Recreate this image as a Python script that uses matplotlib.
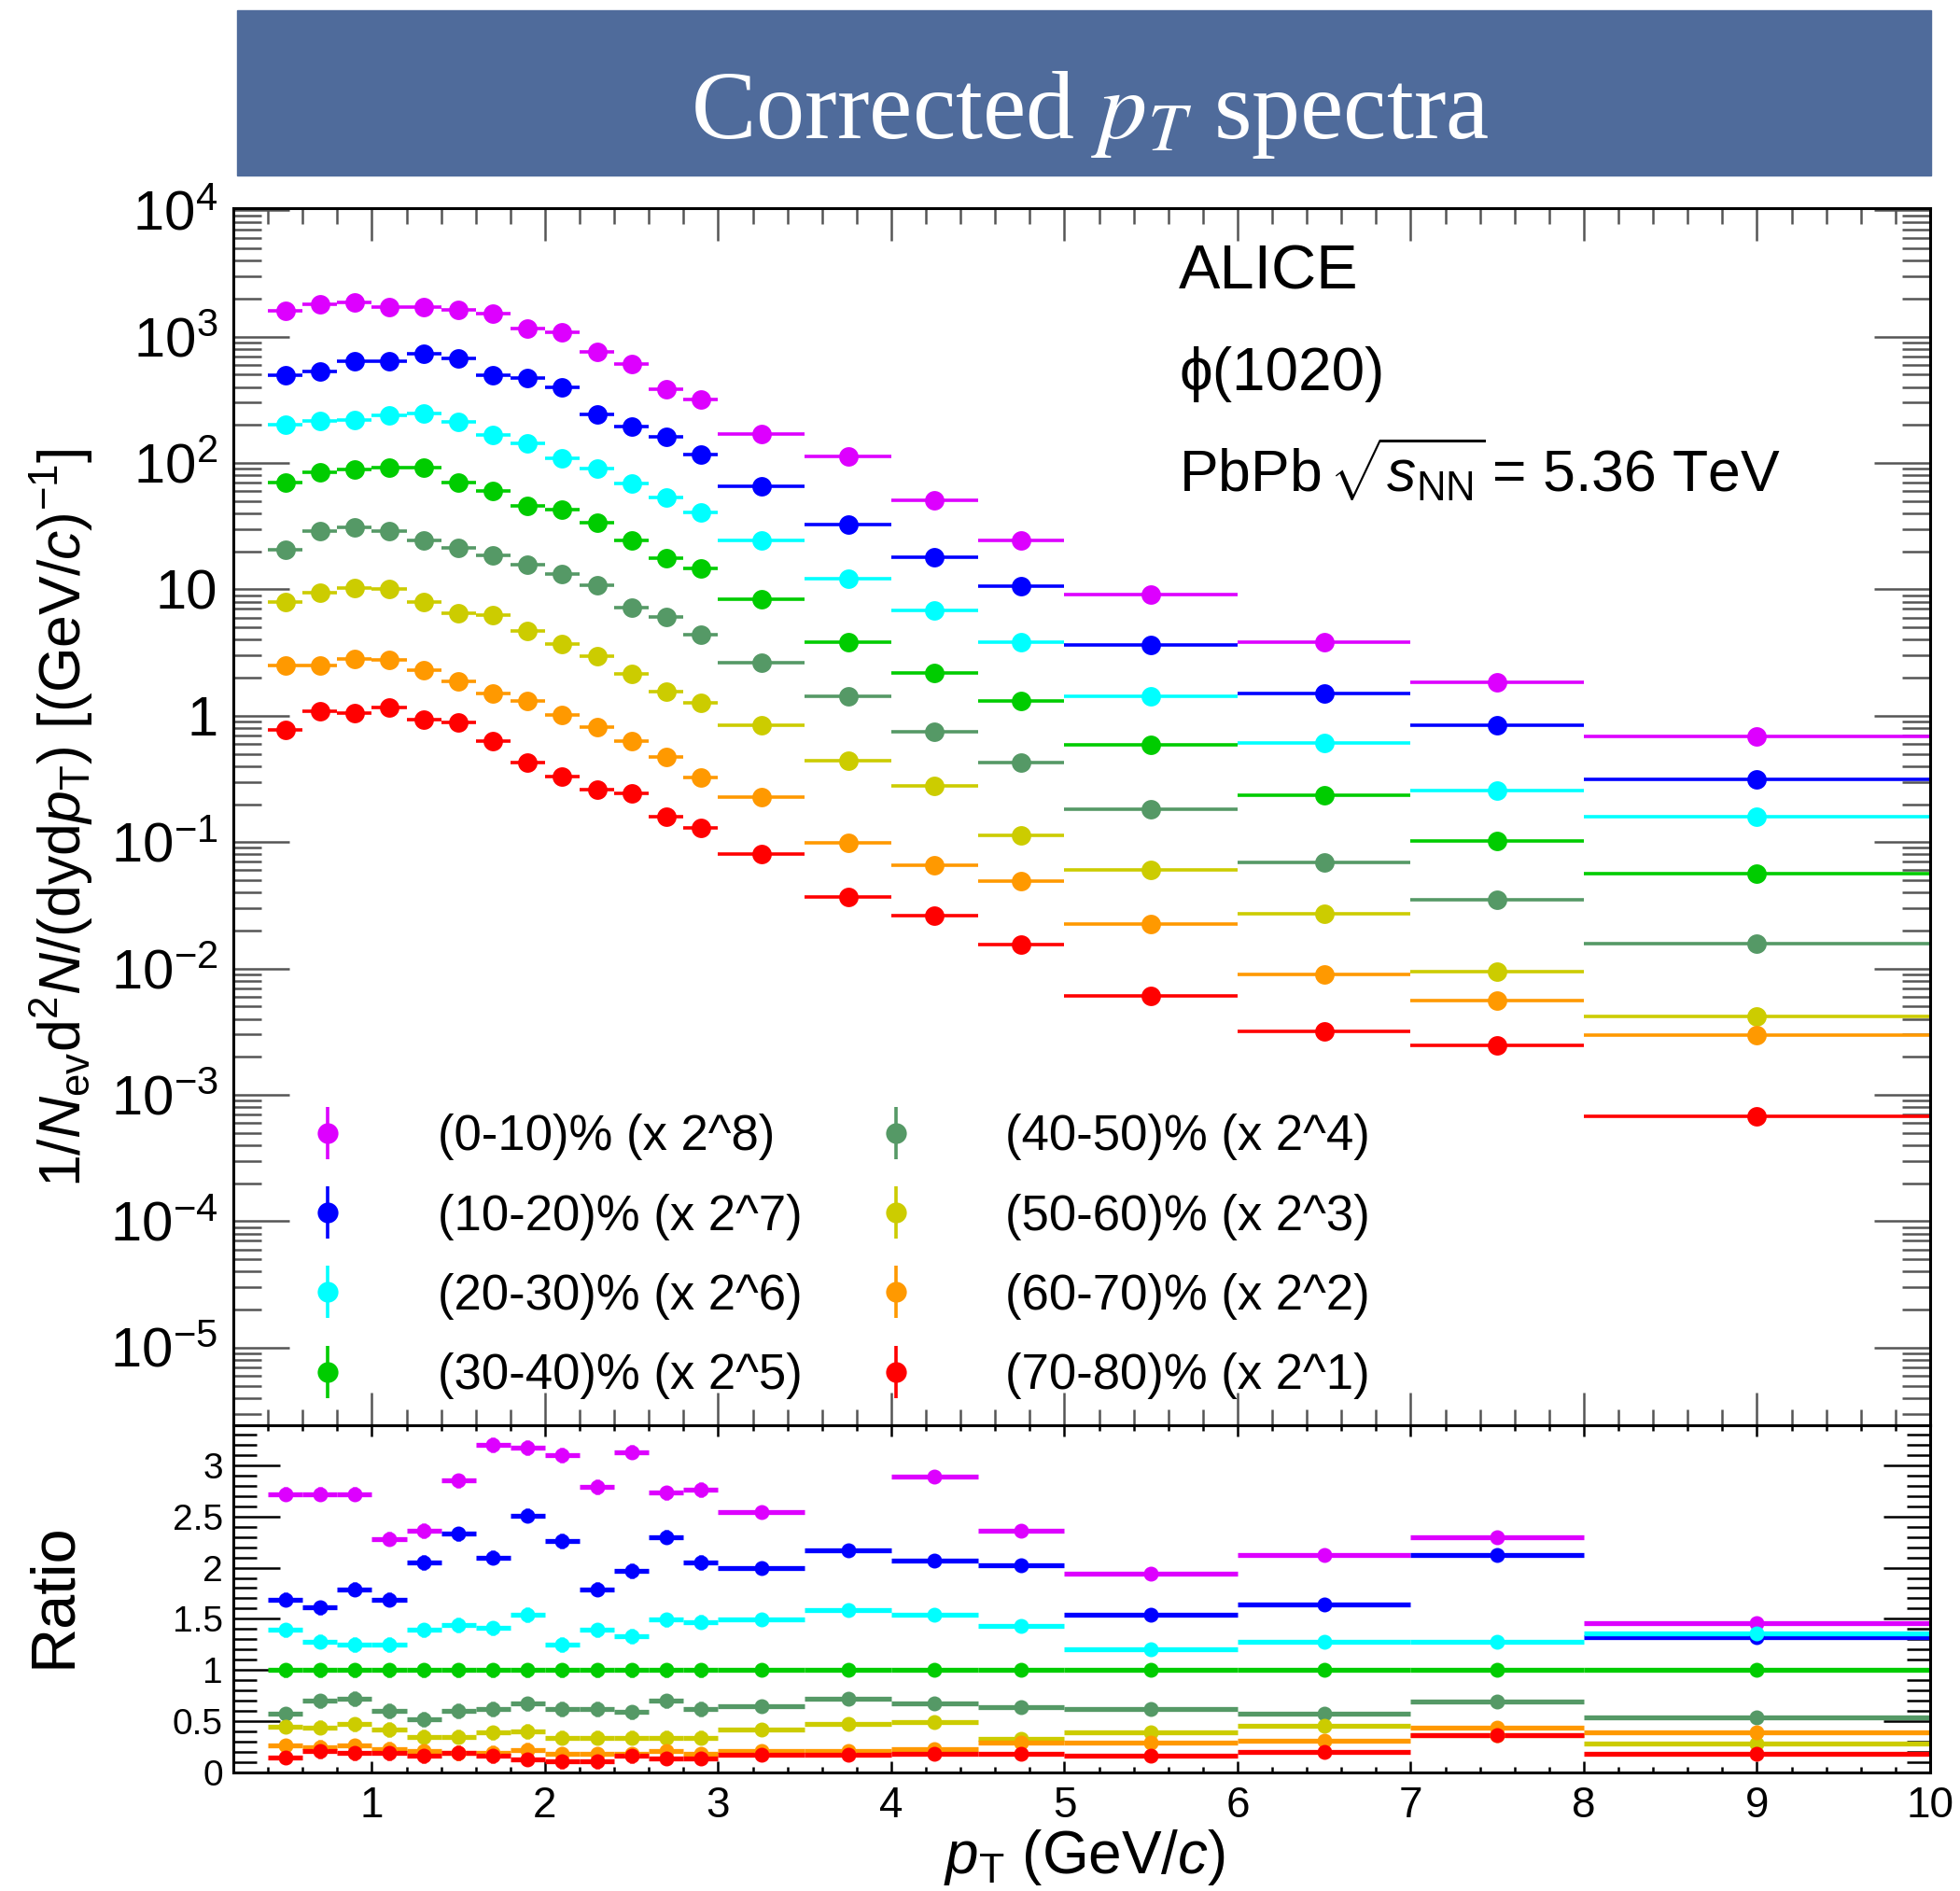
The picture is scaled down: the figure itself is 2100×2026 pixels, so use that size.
import numpy as np
import matplotlib
matplotlib.use("Agg")
import matplotlib.pyplot as plt
from matplotlib.ticker import LogLocator, MultipleLocator, FixedLocator, FixedFormatter, NullFormatter
from matplotlib.patches import Rectangle
from matplotlib.container import ErrorbarContainer
from matplotlib.legend_handler import HandlerErrorbar

plt.rcParams['font.family'] = ['Liberation Sans', 'DejaVu Sans']
plt.rcParams['mathtext.fontset'] = 'custom'
plt.rcParams['mathtext.rm'] = 'Liberation Sans'
plt.rcParams['mathtext.it'] = 'Liberation Sans:italic'
plt.rcParams['mathtext.bf'] = 'Liberation Sans:bold'

# pT bins (GeV/c)
pt_edges = [0.4, 0.6, 0.8, 1.0, 1.2, 1.4, 1.6, 1.8, 2.0, 2.2, 2.4, 2.6, 2.8,
            3.0, 3.5, 4.0, 4.5, 5.0, 6.0, 7.0, 8.0, 10.0]

labels = ["(0-10)% (x 2^8)", "(10-20)% (x 2^7)", "(20-30)% (x 2^6)", "(30-40)% (x 2^5)",
          "(40-50)% (x 2^4)", "(50-60)% (x 2^3)", "(60-70)% (x 2^2)", "(70-80)% (x 2^1)"]
colors = ['#dd00ff', '#0000ff', '#00ffff', '#00cc00',
          '#559966', '#cccc00', '#ff9900', '#ff0000']

# scaled spectra
spec_0_10 = [1600, 1790, 1860, 1710, 1710, 1640, 1520, 1160, 1080, 762, 611, 382, 319,
             170, 113, 50.6, 24.4, 9.1, 3.83, 1.85, 0.691]
spec_10_20 = [494, 533, 644, 644, 738, 674, 494, 469, 394, 241, 196, 162, 116,
              65.5, 32.8, 18.0, 10.7, 3.64, 1.49, 0.847, 0.316]
spec_20_30 = [201, 217, 220, 237, 246, 212, 166, 143, 109, 90.6, 69, 53, 41,
              24.4, 12.2, 6.78, 3.83, 1.43, 0.611, 0.256, 0.158]
spec_30_40 = [70.6, 84.7, 88.6, 91.3, 91.3, 70.6, 59.7, 46.1, 42.8, 33.6, 24.4, 17.6, 14.6,
              8.43, 3.80, 2.20, 1.32, 0.585, 0.236, 0.103, 0.0567]
spec_40_50 = [20.5, 28.9, 31.1, 28.9, 24.4, 21.3, 18.7, 15.7, 13.3, 10.8, 7.17, 6.1, 4.35,
              2.62, 1.43, 0.745, 0.425, 0.182, 0.069, 0.0352, 0.0157]
spec_50_60 = [7.96, 9.48, 10.2, 10.0, 7.96, 6.49, 6.25, 4.69, 3.68, 2.98, 2.13, 1.54, 1.27,
              0.848, 0.444, 0.280, 0.114, 0.060, 0.0271, 0.0094, 0.00415]
spec_60_70 = [2.48, 2.48, 2.83, 2.76, 2.30, 1.86, 1.51, 1.32, 1.015, 0.82, 0.635, 0.469, 0.326,
              0.226, 0.099, 0.066, 0.0496, 0.0224, 0.00902, 0.00562, 0.00295]
spec_70_80 = [0.778, 1.09, 1.05, 1.16, 0.927, 0.885, 0.635, 0.425, 0.331, 0.26, 0.244, 0.159, 0.129,
              0.0806, 0.0366, 0.0261, 0.0155, 0.00611, 0.00319, 0.00248, 0.000675]

# ratio to (30-40)%
r_0_10 = [2.72, 2.72, 2.72, 2.28, 2.36, 2.85, 3.20, 3.17, 3.10, 2.79, 3.13, 2.73, 2.76,
          2.54, 3.72, 2.89, 2.36, 1.94, 2.12, 2.30, 1.46]
r_10_20 = [1.69, 1.61, 1.79, 1.69, 2.05, 2.33, 2.10, 2.51, 2.26, 1.79, 1.97, 2.30, 2.05,
           2.00, 2.17, 2.07, 2.02, 1.54, 1.64, 2.12, 1.32]
r_20_30 = [1.39, 1.28, 1.25, 1.25, 1.39, 1.44, 1.41, 1.54, 1.25, 1.39, 1.33, 1.49, 1.47,
           1.49, 1.59, 1.54, 1.43, 1.20, 1.28, 1.28, 1.36]
r_30_40 = [1.0, 1.0, 1.0, 1.0, 1.0, 1.0, 1.0, 1.0, 1.0, 1.0, 1.0, 1.0, 1.0,
           1.0, 1.0, 1.0, 1.0, 1.0, 1.0, 1.0, 1.0]
r_40_50 = [0.57, 0.70, 0.72, 0.60, 0.52, 0.60, 0.62, 0.67, 0.62, 0.62, 0.59, 0.70, 0.62,
           0.65, 0.72, 0.67, 0.64, 0.62, 0.57, 0.69, 0.54]
r_50_60 = [0.45, 0.44, 0.47, 0.42, 0.35, 0.35, 0.39, 0.40, 0.34, 0.34, 0.34, 0.34, 0.34,
           0.42, 0.47, 0.49, 0.33, 0.39, 0.46, 0.36, 0.28]
r_60_70 = [0.26, 0.25, 0.26, 0.23, 0.21, 0.19, 0.19, 0.22, 0.18, 0.18, 0.18, 0.21, 0.18,
           0.21, 0.21, 0.23, 0.29, 0.29, 0.31, 0.44, 0.39]
r_70_80 = [0.15, 0.21, 0.19, 0.19, 0.16, 0.19, 0.16, 0.13, 0.11, 0.11, 0.16, 0.14, 0.14,
           0.17, 0.17, 0.18, 0.18, 0.16, 0.20, 0.36, 0.18]
ratio_err = [0.07, 0.07, 0.07, 0.07, 0.07, 0.07, 0.07, 0.07, 0.07, 0.07, 0.07, 0.07, 0.07,
             0.06, 0.06, 0.06, 0.06, 0.06, 0.06, 0.06, 0.06]

spectra = [spec_0_10, spec_10_20, spec_20_30, spec_30_40, spec_40_50, spec_50_60, spec_60_70, spec_70_80]
ratios = [r_0_10, r_10_20, r_20_30, r_30_40, r_40_50, r_50_60, r_60_70, r_70_80]

edges = np.array(pt_edges)
pt = 0.5 * (edges[1:] + edges[:-1])
pt_err = 0.5 * (edges[1:] - edges[:-1])

W, H = 2100, 2026
fig = plt.figure(figsize=(W / 100, H / 100), dpi=100)

L, R = 250, 2068
ax = fig.add_axes([L / W, 1 - 1527 / H, (R - L) / W, (1527 - 223) / H])
axr = fig.add_axes([L / W, 1 - 1899 / H, (R - L) / W, (1899 - 1527) / H], sharex=ax)

# title banner
fig.add_artist(Rectangle((254 / W, 1 - 188 / H), (2069 - 254) / W, 177 / H,
                         transform=fig.transFigure, color='#4f6b9b', zorder=0))
fig.text(1168 / W, 1 - 148 / H, 'Corrected $p_T$ spectra', color='white', fontsize=75,
         family='Liberation Serif', math_fontfamily='stix', ha='center', va='baseline')

for s, c in zip(spectra, colors):
    ax.errorbar(pt, s, xerr=pt_err, fmt='o', color=c, ms=15, mew=0, elinewidth=2.6, capsize=0)
for r, c in zip(ratios, colors):
    axr.errorbar(pt, r, xerr=pt_err, yerr=ratio_err, fmt='o', color=c, ms=11.5, mew=0,
                 elinewidth=3.8, capsize=0)

ax.set_yscale('log')
ax.set_xlim(0.2, 10)
ax.set_ylim(10 ** -5.614, 10 ** 4.017)
axr.set_ylim(0, 3.39)

yt = [1e-5, 1e-4, 1e-3, 1e-2, 1e-1, 1, 10, 1e2, 1e3, 1e4]
ytl = [r'$10^{-5}$', r'$10^{-4}$', r'$10^{-3}$', r'$10^{-2}$', r'$10^{-1}$', '1', '10',
       r'$10^{2}$', r'$10^{3}$', r'$10^{4}$']
ax.yaxis.set_major_locator(FixedLocator(yt))
ax.yaxis.set_major_formatter(FixedFormatter(ytl))
ax.yaxis.set_minor_locator(LogLocator(base=10, subs=np.arange(2, 10), numticks=30))
ax.yaxis.set_minor_formatter(NullFormatter())
ax.xaxis.set_major_locator(MultipleLocator(1))
ax.xaxis.set_minor_locator(MultipleLocator(0.2))
plt.setp(ax.get_xticklabels(), visible=False)

axr.yaxis.set_major_locator(FixedLocator([0, 0.5, 1, 1.5, 2, 2.5, 3]))
axr.yaxis.set_major_formatter(FixedFormatter(['0', '0.5', '1', '1.5', '2', '2.5', '3']))
axr.yaxis.set_minor_locator(MultipleLocator(0.1))

ax.tick_params(which='both', direction='in', top=True, right=True, color='#555555', width=1.8)
ax.tick_params(axis='y', which='major', length=43, labelsize=43, pad=12)
ax.tick_params(axis='y', which='minor', length=21.6)
ax.tick_params(axis='x', which='major', length=25)
ax.tick_params(axis='x', which='minor', length=12)
axr.tick_params(which='both', direction='in', top=True, right=True, color='black', width=1.8)
axr.tick_params(axis='y', which='major', length=36, labelsize=28, pad=8)
axr.tick_params(axis='y', which='minor', length=18)
axr.tick_params(axis='x', which='major', length=8.6, labelsize=33, pad=10)
axr.tick_params(axis='x', which='minor', length=4.3)
for a in (ax, axr):
    for sp in a.spines.values():
        sp.set_linewidth(2.2)

# legend
proxies = []
for c in colors:
    proxies.append(ax.errorbar([np.nan], [np.nan], yerr=[1], fmt='o', color=c, ms=16, mew=0,
                               elinewidth=2.6, capsize=0))
ax.legend(proxies, labels, ncol=2, loc='upper left', bbox_to_anchor=(0.0323, 0.256),
          frameon=False, fontsize=38, handlelength=1.6, handletextpad=1.43, columnspacing=1.1,
          labelspacing=0.67, borderpad=0, borderaxespad=0,
          handler_map={ErrorbarContainer: HandlerErrorbar(yerr_size=0.53)})

# annotations
fig.text(1263 / W, 1 - 310 / H, 'ALICE', fontsize=48, va='baseline')
fig.text(1263 / W, 1 - 418 / H, '\u03d5(1020)', fontsize=46, va='baseline')
fig.text(1263 / W, 1 - 527 / H, r'PbPb$\,\sqrt{s_{\rm NN}}\!$ = 5.36 TeV', fontsize=45, va='baseline')

# axis titles
fig.text(66 / W, 1 - 876 / H,
         r'$1/N_{\rm ev}{\rm d}^{2}N/({\rm dyd}p_{\rm T})$ [(GeV/$c$)$^{-1}$]',
         rotation=90, ha='center', va='center', fontsize=45)
fig.text(58 / W, 1 - 1709 / H, 'Ratio', rotation=90, ha='center', va='center', fontsize=48)
fig.text(1162 / W, 1 - 2007 / H, r'$p_{\rm T}$ (GeV/$c$)', ha='center', va='baseline', fontsize=46)

fig.savefig('out.png', dpi=100)
